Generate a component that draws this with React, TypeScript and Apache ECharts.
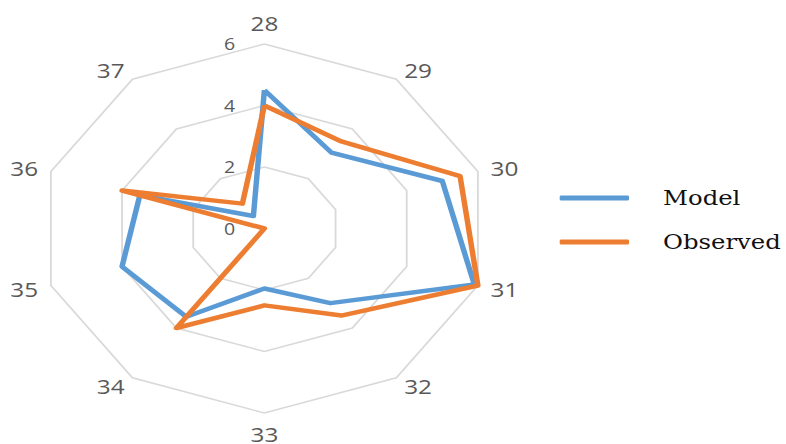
import React, { useEffect, useRef } from "react";
import * as echarts from "echarts";

const categories = ["28", "29", "30", "31", "32", "33", "34", "35", "36", "37"];
const modelValues = [4.5, 3.05, 5.0, 5.9, 3.0, 1.95, 3.55, 4.0, 3.5, 0.5];
const observedValues = [4.0, 3.5, 5.5, 6.0, 3.5, 2.5, 4.0, 0, 4.0, 1.0];
const seriesNames = ["Model", "Observed"];
const axisMin = 0;
const axisMax = 6;
const splitCount = 3;

const STRETCH = 1.2167;
const BASE_W = 786 / STRETCH;

export default function App() {
  const ref = useRef<HTMLDivElement>(null);
  useEffect(() => {
    if (!ref.current) return;
    const chart = echarts.init(ref.current, null, { renderer: "svg" });
    // ECharts radar runs counter-clockwise; reorder so the reference's clockwise order shows
    const order = categories.map((_, i) => (i === 0 ? 0 : categories.length - i));
    const indicator = order.map((idx) => {
      const base: any = { name: categories[idx], min: axisMin, max: axisMax };
      if (idx === 0) {
        base.axisLabel = {
          show: true,
          margin: 24,
          color: "#595959",
          fontSize: 16,
          fontFamily: "Open Sans",
        };
      }
      return base;
    });
    chart.setOption({
      animation: false,
      color: ["#5B9BD5", "#ED7D31"],
      legend: {
        data: seriesNames,
        orient: "vertical",
        left: 455,
        top: 181,
        itemWidth: 57,
        itemHeight: 5,
        itemGap: 20,
        icon: "roundRect",
        textStyle: {
          fontFamily: "DejaVu Serif",
          fontSize: 20,
          color: "#111",
          lineHeight: 24,
          padding: [0, 0, 0, 23],
        },
      },
      radar: {
        center: [217.3, 228.5],
        radius: 184.5,
        startAngle: 90,
        splitNumber: splitCount,
        shape: "polygon",
        axisNameGap: 11,
        axisName: {
          color: "#595959",
          fontSize: 20,
          fontFamily: "Open Sans",
        },
        axisLine: { show: false },
        axisTick: { show: false },
        axisLabel: { show: false },
        splitArea: { show: false },
        splitLine: { lineStyle: { color: "#d9d9d9", width: 1.5 } },
        indicator,
      },
      series: [
        {
          type: "radar",
          symbol: "none",
          lineStyle: { width: 4.5 },
          data: [
            {
              name: seriesNames[0],
              value: order.map((i) => modelValues[i]),
              lineStyle: { color: "#5B9BD5", width: 4.5 },
              itemStyle: { color: "#5B9BD5" },
            },
            {
              name: seriesNames[1],
              value: order.map((i) => observedValues[i]),
              lineStyle: { color: "#ED7D31", width: 4.5 },
              itemStyle: { color: "#ED7D31" },
            },
          ],
        },
      ],
    });
    return () => chart.dispose();
  }, []);
  return (
    <div
      ref={ref}
      style={{
        position: "absolute",
        left: 0,
        top: 0,
        width: BASE_W,
        height: 444,
        transform: `scaleX(${STRETCH})`,
        transformOrigin: "0 0",
        background: "#fff",
      }}
    />
  );
}
